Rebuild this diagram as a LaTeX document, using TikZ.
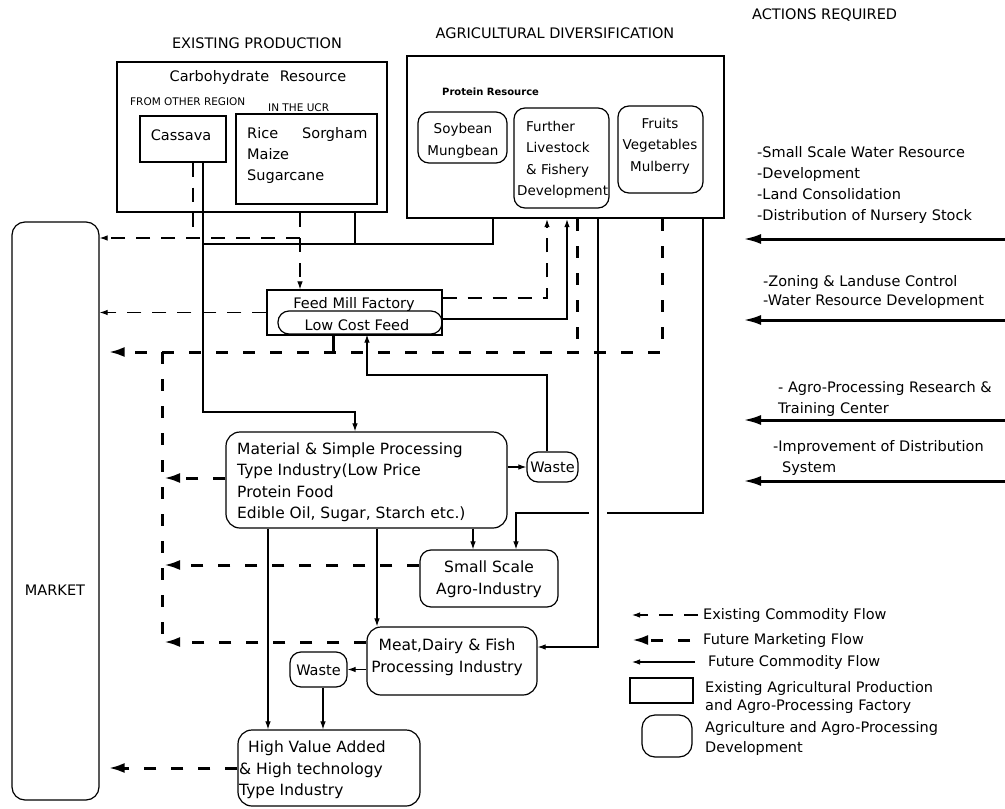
\documentclass[tikz,border=0pt]{standalone}
\usepackage{fontspec}
\setmainfont{DejaVu Sans}
\usetikzlibrary{arrows.meta}
\newcommand\myfA{\fontsize{14.5}{21}\selectfont}
\newcommand\myfB{\fontsize{15.5}{21.5}\selectfont}
\newcommand\myfC{\fontsize{13.5}{21.5}\selectfont}
\newcommand\myfS{\fontsize{10.5}{12}\selectfont}
\begin{document}
\begin{tikzpicture}[x=1pt,y=-1pt,
  thickbox/.style={draw, line width=2.4pt, inner sep=0pt},
  plainbox/.style={draw, line width=1.2pt, inner sep=0pt},
  roundbox/.style={draw, line width=1.2pt, rounded corners=11pt, inner sep=0pt},
  txt/.style={inner sep=0pt, font=\myfA},
  ecfl/.style={line width=1.1pt, dash pattern=on 14pt off 11pt},
  ecf/.style={ecfl, -{Latex[length=8pt,width=5.5pt]}},
  fcfl/.style={line width=1.1pt},
  fcf/.style={fcfl, -{Latex[length=8pt,width=5.5pt]}},
  fmfl/.style={line width=3pt, dash pattern=on 12pt off 15pt},
  fmf/.style={fmfl, -{Latex[length=16pt,width=10pt]}},
  act/.style={line width=3pt, -{Latex[length=18pt,width=10pt]}}]
\useasboundingbox (0,0) rectangle (1005,809);
\fill[white] (0,0) rectangle (1005,809);

% titles
\node[txt] (t1) at (257,43) {EXISTING PRODUCTION};
\node[txt] (t2) at (555,33) {AGRICULTURAL DIVERSIFICATION};
\node[txt,anchor=west] (t3) at (752,15) {ACTIONS REQUIRED};

% boxes
\node[thickbox, minimum width=270pt, minimum height=150pt] (ep) at (252,137) {};
\node[thickbox, minimum width=317pt, minimum height=162pt] (ag) at (565.5,137) {};
\node[plainbox, minimum width=86pt, minimum height=46pt] (cassava) at (183,139) {};
\node[plainbox, minimum width=141pt, minimum height=90pt] (ucr) at (306.5,159) {};
\node[roundbox, minimum width=89pt, minimum height=51pt] (soy) at (462.5,137.5) {};
\node[roundbox, minimum width=95pt, minimum height=100pt] (live) at (561.5,158) {};
\node[roundbox, minimum width=85pt, minimum height=87pt] (fruit) at (660.5,149.5) {};
\node[roundbox, rounded corners=13pt, minimum width=87pt, minimum height=578pt] (market) at (55.5,511) {};
\node[plainbox, minimum width=175pt, minimum height=45pt] (feed) at (354.5,312.5) {};
\node[roundbox, minimum width=164pt, minimum height=23pt] (lcf) at (360,322.5) {};
\node[roundbox, rounded corners=14pt, minimum width=281pt, minimum height=96pt] (mat) at (366.5,480) {};
\node[roundbox, minimum width=51pt, minimum height=30pt] (waste1) at (552.5,467) {};
\node[roundbox, minimum width=138pt, minimum height=57pt] (small) at (489,578.5) {};
\node[roundbox, rounded corners=14pt, minimum width=170pt, minimum height=68pt] (meat) at (452,661) {};
\node[roundbox, minimum width=57pt, minimum height=35pt] (waste2) at (318.5,669.5) {};
\node[roundbox, rounded corners=14pt, minimum width=182pt, minimum height=76pt] (hv) at (329,768) {};
\node[plainbox, minimum width=63pt, minimum height=25pt] (lgrect) at (661.5,690.5) {};
\node[roundbox, rounded corners=13pt, minimum width=50pt, minimum height=42pt] (lground) at (667,736) {};

% texts
\node[txt] (carb) at (258,77) {Carbohydrate\hspace*{6pt} Resource};
\node[txt,anchor=west,font=\myfS] (from) at (130,102) {FROM OTHER REGION};
\node[txt,anchor=west,font=\myfS] (inucr) at (268,108) {IN THE UCR};
\node[txt] (cassavat) at (181,135) {Cassava};
\node[txt,anchor=west,align=left] (ucrt) at (247,155.5) {Rice\hspace*{24pt}Sorgham\\Maize\\Sugarcane};
\node[txt,anchor=west,font=\bfseries\fontsize{10}{12}\selectfont] (prot) at (442,92) {Protein Resource};
\node[txt,align=center,font=\myfC] (soyt) at (463,141) {Soybean\\Mungbean};
\node[txt,anchor=west,align=left,font=\myfC] (livet) at (517,160) {\hspace*{9pt}Further\\\hspace*{9pt}Livestock\\\hspace*{9pt}\& Fishery\\Development};
\node[txt,align=center,font=\myfC] (fruitt) at (660,146) {Fruits\\Vegetables\\Mulberry};
\node[txt] (markett) at (55,590) {MARKET};
\node[txt] (feedt) at (354,304) {Feed Mill Factory};
\node[txt] (lcft) at (357,325) {Low Cost Feed};
\node[txt,anchor=west,align=left,font=\myfB] (matt) at (237,482) {Material \& Simple Processing\\Type Industry(Low Price\\Protein Food\\Edible Oil, Sugar, Starch etc.)};
\node[txt] (w1t) at (552.5,467) {Waste};
\node[txt,align=center,font=\myfB] (smallt) at (489,579) {Small Scale\\Agro-Industry};
\node[txt,align=center,font=\myfB] (meatt) at (447,657) {Meat,Dairy \& Fish\\Processing Industry};
\node[txt] (w2t) at (318.5,670) {Waste};
\node[txt,anchor=west,align=left,font=\myfB] (hvt) at (239,770) {\hspace*{9pt}High Value Added\\\& High technology\\Type Industry};

% actions
\node[txt,anchor=west,align=left] (act1t) at (757,185) {-Small Scale Water Resource\\-Development\\-Land Consolidation\\-Distribution of Nursery Stock};
\node[txt,anchor=west,align=left,font=\fontsize{14.5}{19.5}\selectfont] (act2t) at (763,292) {-Zoning \& Landuse Control\\-Water Resource Development};
\node[txt,anchor=west,align=left] (act3t) at (778,399) {- Agro-Processing Research \&\\Training Center};
\node[txt,anchor=west,align=left] (act4t) at (773,458) {-Improvement of Distribution\\\hspace*{9pt}System};
\coordinate (a1s) at (1005,239); \coordinate (a1e) at (743,239);
\coordinate (a2s) at (1005,320); \coordinate (a2e) at (743,320);
\coordinate (a3s) at (1005,420); \coordinate (a3e) at (743,420);
\coordinate (a4s) at (1005,481); \coordinate (a4e) at (743,481);
\draw[act] (a1s) -- (a1e);
\draw[act] (a2s) -- (a2e);
\draw[act] (a3s) -- (a3e);
\draw[act] (a4s) -- (a4e);

% legend
\coordinate (l1s) at (698,615); \coordinate (l1e) at (632,615);
\coordinate (l2s) at (690,640); \coordinate (l2e) at (632,640);
\coordinate (l3s) at (695,662); \coordinate (l3e) at (632,662);
\draw[ecf] (l1s) -- (l1e);
\draw[fmf] (l2s) -- (l2e);
\draw[fcf] (l3s) -- (l3e);
\node[txt,anchor=west] (lg1) at (703,615) {Existing Commodity Flow};
\node[txt,anchor=west] (lg2) at (703,640) {Future Marketing Flow};
\node[txt,anchor=west] (lg3) at (708,662) {Future Commodity Flow};
\node[txt,anchor=west,align=left,font=\fontsize{14.5}{18}\selectfont] (lg4) at (705,697) {Existing Agricultural Production\\and Agro-Processing Factory};
\node[txt,anchor=west,align=left,font=\fontsize{14.5}{20}\selectfont] (lg5) at (705,738) {Agriculture and Agro-Processing\\Development};

% coordinates
\coordinate (e0) at (193,238);
\coordinate (e1) at (300,238);
\coordinate (e2) at (547,298);
\coordinate (f1) at (203,412);
\coordinate (f2) at (355,412);
\coordinate (f3) at (203,244);
\coordinate (f4) at (355,244);
\coordinate (f5) at (493,244);
\coordinate (f6) at (567,319);
\coordinate (f7) at (547,375);
\coordinate (f8) at (367,375);
\coordinate (f9) at (598,647);
\coordinate (f10) at (703,513);
\coordinate (f11) at (516,513);
\coordinate (c473) at (473,540);
\coordinate (c377) at (377,600);
\coordinate (c268) at (268,600);
\coordinate (c323) at (323,700);
\coordinate (c333) at (333,352);
\coordinate (m1) at (662,352);
\coordinate (m2) at (577,352);
\coordinate (m4) at (162,352);
\coordinate (m5) at (162,642);
\coordinate (m6) at (164,478);
\coordinate (m7) at (164,565);
\coordinate (m8) at (164,642);

% existing commodity flow
\draw[ecfl] (cassava.south -| e0) -- (e0);
\draw[ecf] (ep.south -| e1) -- (feed.north -| e1);
\draw[ecf] (e1) -- (market.east |- e1);
\draw[ecf] (feed.west) -- (market.east |- feed.west);
\draw[ecf] (feed.east |- e2) -- (e2) -- (ag.south -| e2);

% future commodity flow
\draw[fcf] (cassava.south -| f1) -- (f1) -- (f2) -- (mat.north -| f2);
\draw[fcfl] (ep.south -| f4) -- (f4);
\draw[fcfl] (ag.south -| f5) -- (f5) -- (f3);
\draw[fcf] (lcf.east |- f6) -- (f6) -- (ag.south -| f6);
\draw[fcf] (waste1.north -| f7) -- (f7) -- (f8) -- (lcf.south -| f8);
\draw[fcf] (mat.east |- waste1.west) -- (waste1.west);
\draw[fcf] (ag.south -| f10) -- (f10) -- (f11) -- (small.north -| f11);
\fill[white] (589,509) rectangle (607,518);
\draw[fcf] (ag.south -| f9) -- (f9) -- (meat.east |- f9);
\draw[fcf] (mat.south -| c473) -- (small.north -| c473);
\draw[fcf] (mat.south -| c377) -- (meat.north -| c377);
\draw[fcf] (mat.south -| c268) -- (hv.north -| c268);
\draw[fcf] (meat.west |- waste2.east) -- (waste2.east);
\draw[fcf] (waste2.south -| c323) -- (hv.north -| c323);

% future marketing flow
\draw[fmf, shorten >=9pt] (ag.south -| m1) -- (m1) -- (market.east |- m1);
\draw[fmfl] (ag.south -| m2) -- (m2);
\draw[line width=3pt] (lcf.south -| c333) -- (c333);
\draw[fmfl] (m4) -- (m5);
\draw[fmf] (mat.west |- m6) -- (m6);
\draw[fmf] (small.west |- m7) -- (m7);
\draw[fmf] (meat.west |- m8) -- (m8);
\draw[fmf, shorten >=9pt] (hv.west) -- (market.east |- hv.west);
\end{tikzpicture}
\end{document}
